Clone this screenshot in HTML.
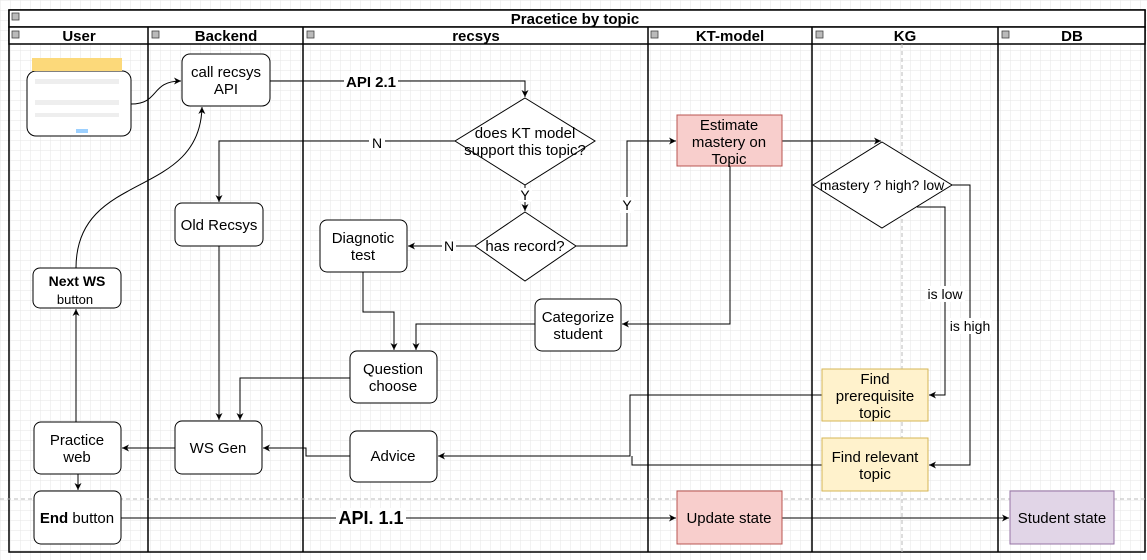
<!DOCTYPE html>
<html><head><meta charset="utf-8"><style>
html,body{margin:0;padding:0;background:#fff;}
svg{display:block;font-family:"Liberation Sans",sans-serif;}
</style></head><body>
<svg width="1147" height="560" viewBox="0 0 1147 560" xmlns="http://www.w3.org/2000/svg">
<defs>
<pattern id="g" width="10" height="10" patternUnits="userSpaceOnUse" x="0" y="0">
<path d="M10 0H0V10" fill="none" stroke="#e6e6e6" stroke-width="1"/>
</pattern>
<marker id="a" markerWidth="8" markerHeight="8" refX="7" refY="4" orient="auto" markerUnits="userSpaceOnUse">
<path d="M0,0.5 L7,4 L0,7.5 L2,4 Z" fill="#000"/>
</marker>
</defs>
<rect width="1147" height="560" fill="url(#g)"/>
<g stroke="#000" stroke-width="1.5" fill="none">
<rect x="9" y="10" width="1136" height="542"/>
<rect x="9" y="10" width="1136" height="17" fill="#fff"/>
<rect x="9" y="27" width="1136" height="17" fill="#fff"/>
<line x1="148" y1="27" x2="148" y2="552"/>
<line x1="303" y1="27" x2="303" y2="552"/>
<line x1="648" y1="27" x2="648" y2="552"/>
<line x1="812" y1="27" x2="812" y2="552"/>
<line x1="998" y1="27" x2="998" y2="552"/>
</g>
<g fill="#bbb" stroke="#444" stroke-width="0.8">
<rect x="12" y="13" width="7" height="7"/><rect x="12" y="31" width="7" height="7"/><rect x="152" y="31" width="7" height="7"/><rect x="307" y="31" width="7" height="7"/><rect x="651" y="31" width="7" height="7"/><rect x="816" y="31" width="7" height="7"/><rect x="1002" y="31" width="7" height="7"/>
</g>
<g font-weight="bold" font-size="15" text-anchor="middle">
<text x="575" y="24">Pracetice by topic</text>
<text x="79" y="41">User</text>
<text x="226" y="41">Backend</text>
<text x="476" y="41">recsys</text>
<text x="730" y="41">KT-model</text>
<text x="905" y="41">KG</text>
<text x="1072" y="41">DB</text>
</g>
<line x1="0" y1="499" x2="1147" y2="499" stroke="#bbb" stroke-dasharray="4 3"/>
<line x1="902" y1="44" x2="902" y2="552" stroke="#bbb" stroke-dasharray="4 3"/>
<rect x="27" y="71" width="104" height="65" rx="9" fill="#fff" stroke="#000"/>
<rect x="32" y="58" width="90" height="13" fill="#fcd97a"/>
<rect x="35" y="79" width="84" height="5" fill="#eee"/>
<rect x="35" y="100" width="84" height="5" fill="#eee"/>
<rect x="35" y="113" width="84" height="4" fill="#eee"/>
<rect x="76" y="129" width="12" height="4" fill="#9cd0ff"/>
<g stroke="#000" stroke-width="1" fill="none">
<path d="M131,104 C160,104 150,81 181,81" marker-end="url(#a)"/>
<path d="M270,81 H525 V97" marker-end="url(#a)"/>
<path d="M455,141 H219 V202" marker-end="url(#a)"/>
<path d="M525,185 V211" marker-end="url(#a)"/>
<path d="M475,246 H408" marker-end="url(#a)"/>
<path d="M576,246 H627 V141 H676" marker-end="url(#a)"/>
<path d="M782,141 H881" marker-end="url(#a)"/>
<path d="M952,185 H970 V465 H929" marker-end="url(#a)"/>
<path d="M917,207 H945 V395 H929" marker-end="url(#a)"/>
<path d="M822,395 H630 V456 H438" marker-end="url(#a)"/>
<path d="M822,465 H632 V456"/>
<path d="M730,166 V324 H622" marker-end="url(#a)"/>
<path d="M535,324 H416 V350" marker-end="url(#a)"/>
<path d="M363,272 V312 H394 V350" marker-end="url(#a)"/>
<path d="M350,378 H240 V420" marker-end="url(#a)"/>
<path d="M219,246 V420" marker-end="url(#a)"/>
<path d="M350,456 H306 V448 H263" marker-end="url(#a)"/>
<path d="M175,448 H122" marker-end="url(#a)"/>
<path d="M78,474 V490" marker-end="url(#a)"/>
<path d="M76,422 V309" marker-end="url(#a)"/>
<path d="M76,268 C76,170 200,200 202,107" marker-end="url(#a)"/>
<path d="M121,518 H676" marker-end="url(#a)"/>
<path d="M782,518 H1009" marker-end="url(#a)"/>
</g>
<g stroke="#000" stroke-width="1" fill="#fff">
<rect x="182" y="54" width="88" height="52" rx="8"/>
<polygon points="525,98 595,141 525,185 455,141"/>
<polygon points="525,212 576,246 525,281 475,246"/>
<rect x="320" y="220" width="87" height="52" rx="7"/>
<rect x="175" y="203" width="88" height="43" rx="7"/>
<polygon points="882,142 952,185 882,228 813,185"/>
<rect x="535" y="299" width="86" height="52" rx="7"/>
<rect x="350" y="351" width="87" height="52" rx="7"/>
<rect x="175" y="421" width="87" height="53" rx="7"/>
<rect x="350" y="431" width="87" height="51" rx="7"/>
<rect x="34" y="422" width="87" height="52" rx="7"/>
<rect x="34" y="491" width="87" height="53" rx="7"/>
<rect x="33" y="268" width="88" height="40" rx="7"/>
</g>
<rect x="677" y="115" width="105" height="51" fill="#f8cecc" stroke="#b85450"/>
<rect x="677" y="491" width="105" height="53" fill="#f8cecc" stroke="#b85450"/>
<rect x="822" y="369" width="106" height="52" fill="#fff2cc" stroke="#d6b656"/>
<rect x="822" y="438" width="106" height="53" fill="#fff2cc" stroke="#d6b656"/>
<rect x="1010" y="491" width="104" height="53" fill="#e1d5e7" stroke="#9673a6"/>
<g font-size="15" text-anchor="middle" fill="#000">
<text x="226" y="77">call recsys</text><text x="226" y="94">API</text>
<text x="525" y="138">does KT model</text><text x="525" y="155">support this topic?</text>
<text x="525" y="251">has record?</text>
<text x="363" y="243">Diagnotic</text><text x="363" y="260">test</text>
<text x="219" y="230">Old Recsys</text>
<text x="729" y="130">Estimate</text><text x="729" y="147">mastery on</text><text x="729" y="164">Topic</text>
<text x="882" y="190" font-size="14">mastery ? high? low</text>
<text x="578" y="322">Categorize</text><text x="578" y="339">student</text>
<text x="393" y="374">Question</text><text x="393" y="391">choose</text>
<text x="218" y="453">WS Gen</text>
<text x="393" y="461">Advice</text>
<text x="77" y="445">Practice</text><text x="77" y="462">web</text>
<text x="77" y="523"><tspan font-weight="bold">End</tspan> button</text>
<text x="77" y="286" font-weight="bold" font-size="14">Next WS</text><text x="75" y="304" font-size="13">button</text>
<text x="875" y="384">Find</text><text x="875" y="401">prerequisite</text><text x="875" y="418">topic</text>
<text x="875" y="462">Find relevant</text><text x="875" y="479">topic</text>
<text x="729" y="523">Update state</text>
<text x="1062" y="523">Student state</text>
</g>
<g font-size="14" text-anchor="middle">
<rect x="369" y="134" width="16" height="16" fill="#fff"/><text x="377" y="148">N</text>
<rect x="518" y="188" width="14" height="14" fill="#fff"/><text x="525" y="200">Y</text>
<rect x="442" y="239" width="14" height="16" fill="#fff"/><text x="449" y="251">N</text>
<rect x="620" y="197" width="14" height="16" fill="#fff"/><text x="627" y="210">Y</text>
<rect x="925" y="286" width="40" height="16" fill="#fff"/><text x="945" y="299">is low</text>
<rect x="948" y="318" width="44" height="16" fill="#fff"/><text x="970" y="331">is high</text>
<rect x="344" y="73" width="54" height="16" fill="#fff"/><text x="371" y="87" font-weight="bold" font-size="15">API 2.1</text>
<rect x="336" y="508" width="70" height="20" fill="#fff"/><text x="371" y="524" font-weight="bold" font-size="18">API. 1.1</text>
</g>
</svg>
</body></html>
